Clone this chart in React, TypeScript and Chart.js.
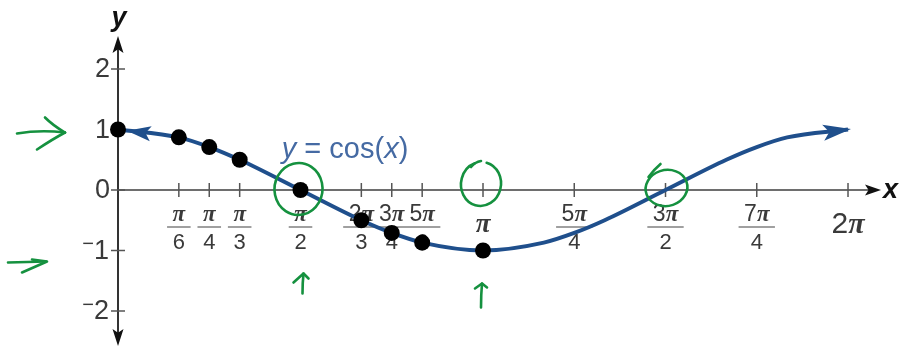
import { useEffect, useRef } from 'react';
import { Chart, registerables } from 'chart.js';

Chart.register(...registerables);

// x values are in multiples of π
const pointX = [0, 1 / 6, 1 / 4, 1 / 3, 1 / 2, 2 / 3, 3 / 4, 5 / 6, 1];
const pointY = [1, 0.87, 0.71, 0.5, 0, -0.5, -0.71, -0.87, -1];

const curveX = [0, 1 / 6, 1 / 4, 1 / 3, 1 / 2, 2 / 3, 3 / 4, 5 / 6, 1, 7 / 6, 5 / 4, 4 / 3, 3 / 2, 5 / 3, 7 / 4, 11 / 6, 2];
const curveY = [1, 0.87, 0.71, 0.5, 0, -0.5, -0.71, -0.87, -1, -0.87, -0.71, -0.5, 0, 0.5, 0.71, 0.87, 1];

const xTickValues = [1 / 6, 1 / 4, 1 / 3, 1 / 2, 2 / 3, 3 / 4, 5 / 6, 1, 5 / 4, 3 / 2, 7 / 4, 2];
const xTickNumerators = ['π', 'π', 'π', 'π', '2π', '3π', '5π', 'π', '5π', '3π', '7π', '2π'];
const xTickDenominators = ['6', '4', '3', '2', '3', '4', '6', '', '4', '2', '4', ''];

const yTickValues = [2, 1, 0, -1, -2];
const yTickLabels = ['2', '1', '0', '−1', '−2'];

const curveLabel = { x: 0.622, y: 0.66 };

const X_MIN = -0.3233;
const X_MAX = 2.1397;
const Y_MIN = -2.6116;
const Y_MAX = 3.1405;

const CURVE_BLUE = '#1f4f8c';
const LABEL_BLUE = '#456aa3';
const TEXT_GRAY = '#3a3a3a';
const PEN_GREEN = '#15913f';
const SANS = '"Liberation Sans", Arial, sans-serif';
const SERIF = '"Liberation Serif", "Times New Roman", serif';

function drawPiText(ctx: CanvasRenderingContext2D, s: string, cx: number, cy: number, size: number) {
  const coeff = s.slice(0, -1);
  const coeffFont = `${size}px ${SANS}`;
  const piFont = `bold italic ${size}px ${SERIF}`;
  ctx.font = coeffFont;
  const cw = coeff ? ctx.measureText(coeff).width : 0;
  ctx.font = piFont;
  const pw = ctx.measureText('π').width;
  const total = cw + pw;
  let left = cx - total / 2;
  ctx.textAlign = 'left';
  ctx.textBaseline = 'middle';
  if (coeff) {
    ctx.font = coeffFont;
    ctx.fillText(coeff, left, cy);
    left += cw;
  }
  ctx.font = piFont;
  ctx.fillText('π', left, cy);
  return total;
}

function fillArrowHead(ctx: CanvasRenderingContext2D, tx: number, ty: number, ux: number, uy: number, len: number, half: number) {
  const bx = tx - ux * len;
  const by = ty - uy * len;
  const nx = -uy;
  const ny = ux;
  const notchX = tx - ux * len * 0.78;
  const notchY = ty - uy * len * 0.78;
  ctx.beginPath();
  ctx.moveTo(tx, ty);
  ctx.lineTo(bx + nx * half, by + ny * half);
  ctx.lineTo(notchX, notchY);
  ctx.lineTo(bx - nx * half, by - ny * half);
  ctx.closePath();
  ctx.fill();
}

const axesPlugin = {
  id: 'trigAxes',
  beforeDatasetsDraw(chart: any) {
    const { ctx } = chart;
    const xs = chart.scales.x;
    const ys = chart.scales.y;
    const x0 = xs.getPixelForValue(0);
    const y0 = ys.getPixelForValue(0);
    const xEnd = xs.getPixelForValue(2);
    const yTop = ys.getPixelForValue(2);
    const yBot = ys.getPixelForValue(-2);
    ctx.save();

    // x axis with arrow
    ctx.strokeStyle = '#6e6e6e';
    ctx.lineWidth = 2;
    ctx.beginPath();
    ctx.moveTo(x0, y0);
    ctx.lineTo(xEnd + 22, y0);
    ctx.stroke();
    ctx.fillStyle = '#111';
    fillArrowHead(ctx, xEnd + 33, y0, 1, 0, 16, 5.5);

    // y axis with arrows at both ends
    ctx.strokeStyle = '#333';
    ctx.beginPath();
    ctx.moveTo(x0, yTop - 22);
    ctx.lineTo(x0, yBot + 24);
    ctx.stroke();
    fillArrowHead(ctx, x0, yTop - 33, 0, -1, 17, 5.5);
    fillArrowHead(ctx, x0, yBot + 35, 0, 1, 17, 5.5);

    // axis names
    ctx.fillStyle = '#111';
    ctx.font = `bold italic 27px ${SANS}`;
    ctx.textAlign = 'center';
    ctx.textBaseline = 'middle';
    ctx.fillText('y', x0 + 1, yTop - 50);
    ctx.textAlign = 'left';
    ctx.fillText('x', xEnd + 35, y0 + 1);

    // y ticks and labels
    ctx.strokeStyle = '#555';
    ctx.lineWidth = 1.5;
    yTickValues.forEach((v, i) => {
      const py = ys.getPixelForValue(v);
      ctx.beginPath();
      ctx.moveTo(x0 - 7, py);
      ctx.lineTo(x0 + 7, py);
      ctx.stroke();
      const label = yTickLabels[i];
      ctx.fillStyle = TEXT_GRAY;
      ctx.textBaseline = 'middle';
      if (label.startsWith('−')) {
        ctx.font = `27px ${SANS}`;
        ctx.textAlign = 'right';
        const digits = label.slice(1);
        ctx.fillText(digits, x0 - 9, py + 1);
        const dw = ctx.measureText(digits).width;
        ctx.font = `20px ${SANS}`;
        ctx.fillText('−', x0 - 9 - dw, py - 6);
      } else {
        ctx.font = `27px ${SANS}`;
        ctx.textAlign = 'right';
        ctx.fillText(label, x0 - 8, py + 1);
      }
    });

    // x ticks and fraction labels
    xTickValues.forEach((v, i) => {
      const px = xs.getPixelForValue(v);
      ctx.strokeStyle = '#555';
      ctx.lineWidth = 1.5;
      ctx.beginPath();
      ctx.moveTo(px, y0 - 7);
      ctx.lineTo(px, y0 + 7);
      ctx.stroke();
      ctx.fillStyle = TEXT_GRAY;
      const num = xTickNumerators[i];
      const den = xTickDenominators[i];
      if (!den) {
        drawPiText(ctx, num, px, y0 + 35, num.length > 1 ? 30 : 27);
        return;
      }
      const nw = drawPiText(ctx, num, px, y0 + 25, 23);
      ctx.font = `22px ${SANS}`;
      ctx.textAlign = 'center';
      ctx.textBaseline = 'middle';
      ctx.fillText(den, px, y0 + 53);
      const dw = ctx.measureText(den).width;
      const bw = Math.max(nw, dw) + 11;
      ctx.strokeStyle = '#a0a0a0';
      ctx.lineWidth = 2;
      ctx.beginPath();
      ctx.moveTo(px - bw / 2, y0 + 37);
      ctx.lineTo(px + bw / 2, y0 + 37);
      ctx.stroke();
    });
    ctx.restore();
  },
  afterDatasetsDraw(chart: any) {
    const { ctx } = chart;
    const meta = chart.getDatasetMeta(1);
    const pts = meta.data as any[];
    if (pts.length < 2) return;
    ctx.save();
    ctx.fillStyle = CURVE_BLUE;

    // arrow at the right end of the curve
    const last = pts[pts.length - 1];
    let dx = last.x - last.cp1x;
    let dy = last.y - last.cp1y;
    if (!isFinite(dx) || Math.hypot(dx, dy) < 1e-3) {
      const p = pts[pts.length - 2];
      dx = last.x - p.x;
      dy = last.y - p.y;
    }
    let d = Math.hypot(dx, dy);
    fillArrowHead(ctx, last.x + (dx / d) * 3, last.y + (dy / d) * 3, dx / d, dy / d, 28, 8);

    // arrow at the left end, just beside the first dot
    const first = pts[0];
    dx = first.x - first.cp2x;
    dy = first.y - first.cp2y;
    if (!isFinite(dx) || Math.hypot(dx, dy) < 1e-3) {
      dx = first.x - pts[1].x;
      dy = first.y - pts[1].y;
    }
    d = Math.hypot(dx, dy);
    const ux = dx / d;
    const uy = dy / d;
    fillArrowHead(ctx, first.x - ux * 9, first.y - uy * 9, ux, uy, 24, 7.5);

    // curve label
    const xs = chart.scales.x;
    const ys = chart.scales.y;
    const cx = xs.getPixelForValue(curveLabel.x);
    const cy = ys.getPixelForValue(curveLabel.y);
    const runs: [string, string][] = [
      ['y', `italic 29px ${SANS}`],
      [' = cos(', `29px ${SANS}`],
      ['x', `italic 29px ${SANS}`],
      [')', `29px ${SANS}`],
    ];
    let total = 0;
    runs.forEach(([t, f]) => {
      ctx.font = f;
      total += ctx.measureText(t).width;
    });
    let left = cx - total / 2;
    ctx.fillStyle = LABEL_BLUE;
    ctx.textAlign = 'left';
    ctx.textBaseline = 'middle';
    runs.forEach(([t, f]) => {
      ctx.font = f;
      ctx.fillText(t, left, cy);
      left += ctx.measureText(t).width;
    });
    ctx.restore();
  },
};

// hand-written pen marks: circles around axis crossings and arrows
const penPlugin = {
  id: 'penMarks',
  afterDraw(chart: any) {
    const { ctx } = chart;
    const xs = chart.scales.x;
    const ys = chart.scales.y;
    const at = (vx: number, vy: number) => [xs.getPixelForValue(vx), ys.getPixelForValue(vy)];
    ctx.save();
    ctx.strokeStyle = PEN_GREEN;
    ctx.lineWidth = 2.6;
    ctx.lineCap = 'round';
    ctx.lineJoin = 'round';

    const poly = (ox: number, oy: number, p: number[][]) => {
      ctx.beginPath();
      ctx.moveTo(ox + p[0][0], oy + p[0][1]);
      for (let i = 1; i < p.length; i++) ctx.lineTo(ox + p[i][0], oy + p[i][1]);
      ctx.stroke();
    };
    const curve = (ox: number, oy: number, a: number[], c: number[], b: number[]) => {
      ctx.beginPath();
      ctx.moveTo(ox + a[0], oy + a[1]);
      ctx.quadraticCurveTo(ox + c[0], oy + c[1], ox + b[0], oy + b[1]);
      ctx.stroke();
    };

    // circle around (π/2, 0)
    let [ax, ay] = at(0.5, 0);
    ctx.beginPath();
    ctx.ellipse(ax - 2, ay - 1, 24, 26, 0.1, -1.9, -1.9 + Math.PI * 2 + 0.35);
    ctx.stroke();

    // circle around (π, 0)
    [ax, ay] = at(1, 0);
    ctx.beginPath();
    ctx.ellipse(ax - 2, ay - 6, 20, 22, 0.15, -1.45, -1.45 + Math.PI * 2 - 0.6);
    ctx.stroke();
    curve(ax, ay, [-12, -23], [-8, -28], [-2, -29]);

    // circle around (3π/2, 0)
    [ax, ay] = at(1.5, 0);
    ctx.beginPath();
    ctx.ellipse(ax + 1, ay - 2, 21, 18, -0.2, -2.5, -2.5 + Math.PI * 2 + 0.1);
    ctx.stroke();
    curve(ax, ay, [-17, -13], [-12, -20], [-5, -26]);

    // arrow toward the level y = 1
    [ax, ay] = at(0, 1);
    curve(ax, ay, [-101, 4], [-78, 0], [-53, 3]);
    curve(ax, ay, [-73, -12], [-65, -4], [-53, 3]);
    curve(ax, ay, [-81, 20], [-66, 10], [-53, 3]);

    // arrow toward the level y = -1
    [ax, ay] = at(0, -1);
    poly(ax, ay, [[-110, 12], [-72, 11]]);
    poly(ax, ay, [[-96, 22], [-71, 11], [-86, 9]]);

    // up arrow under π/2
    [ax, ay] = at(0.5, -1);
    curve(ax, ay, [2, 43], [2, 32], [3, 23]);
    poly(ax, ay, [[-7, 32], [3, 23], [8, 28]]);

    // up arrow under π
    [ax, ay] = at(1, -1);
    curve(ax, ay, [-2, 57], [-2, 44], [-1, 33]);
    poly(ax, ay, [[-8, 38], [-1, 33], [4, 37]]);

    ctx.restore();
  },
};

export default function App() {
  const ref = useRef<HTMLCanvasElement>(null);

  useEffect(() => {
    const canvas = ref.current;
    if (!canvas) return;
    const chart = new Chart(canvas, {
      type: 'line',
      data: {
        datasets: [
          {
            type: 'scatter',
            data: pointX.map((x, i) => ({ x, y: pointY[i] })),
            pointRadius: 8,
            pointBackgroundColor: '#000',
            pointBorderWidth: 0,
            showLine: false,
          } as any,
          {
            data: curveX.map((x, i) => ({ x, y: curveY[i] })),
            borderColor: CURVE_BLUE,
            borderWidth: 4,
            pointRadius: 0,
            cubicInterpolationMode: 'monotone',
            fill: false,
          },
        ],
      },
      options: {
        animation: false,
        responsive: false,
        maintainAspectRatio: false,
        layout: { padding: 0, autoPadding: false },
        events: [],
        scales: {
          x: { type: 'linear', min: X_MIN, max: X_MAX, display: false },
          y: { type: 'linear', min: Y_MIN, max: Y_MAX, display: false },
        },
        plugins: {
          legend: { display: false },
          tooltip: { enabled: false },
        },
      },
      plugins: [axesPlugin, penPlugin],
    });
    return () => chart.destroy();
  }, []);

  return (
    <div style={{ position: 'fixed', left: 0, top: 0, width: 899, height: 348, background: '#fff' }}>
      <canvas ref={ref} width={899} height={348} style={{ display: 'block', width: 899, height: 348 }} />
    </div>
  );
}
